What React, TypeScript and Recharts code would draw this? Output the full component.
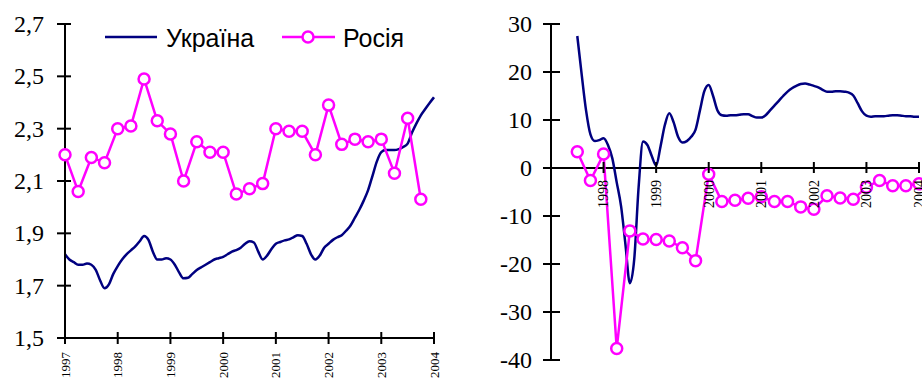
import React from 'react';
import { LineChart, Line, XAxis, YAxis, ReferenceLine, Legend } from 'recharts';

// ---------- data ----------
const seriesNames = ['Україна', 'Росія'];

const leftYearTicks = [1997, 1998, 1999, 2000, 2001, 2002, 2003, 2004];
const rightYearTicks = [1998, 1999, 2000, 2001, 2002, 2003, 2004];
const leftValueTicks = [1.5, 1.7, 1.9, 2.1, 2.3, 2.5, 2.7];
const rightValueTicks = [-40, -30, -20, -10, 0, 10, 20, 30];

// Left panel: Ukraine, monthly from Jan 1997 to Jan 2004
const ukraineLevelMonthly = [
  1.82, 1.8, 1.79, 1.78, 1.78, 1.785, 1.78, 1.76, 1.72, 1.69, 1.705, 1.745,
  1.775, 1.8, 1.82, 1.835, 1.85, 1.87, 1.89, 1.875, 1.83, 1.8, 1.8, 1.805,
  1.8, 1.78, 1.75, 1.728, 1.73, 1.745, 1.76, 1.77, 1.78, 1.79, 1.8, 1.805,
  1.81, 1.82, 1.83, 1.836, 1.845, 1.86, 1.87, 1.865, 1.83, 1.8, 1.815, 1.84,
  1.86, 1.867, 1.873, 1.877, 1.885, 1.893, 1.89, 1.86, 1.82, 1.8, 1.815, 1.845,
  1.86, 1.875, 1.885, 1.893, 1.91, 1.93, 1.96, 1.99, 2.025, 2.065, 2.12, 2.175,
  2.21, 2.218, 2.218, 2.218, 2.222, 2.23, 2.243, 2.285, 2.32, 2.351, 2.375, 2.398,
  2.42,
];
// Left panel: Russia, quarterly from 1997 Q1 to 2003 Q4
const russiaLevelQuarterly = [
  2.2, 2.06, 2.19, 2.17,
  2.3, 2.31, 2.49, 2.33,
  2.28, 2.1, 2.25, 2.21,
  2.21, 2.05, 2.07, 2.09,
  2.3, 2.29, 2.29, 2.2,
  2.39, 2.24, 2.26, 2.25,
  2.26, 2.13, 2.34, 2.03,
];

// Right panel: Ukraine, monthly from Jul 1997 to Jan 2004
const ukraineChangeMonthly = [
  27.5, 19.5, 12.0, 7.0, 5.6, 5.8,
  6.2, 4.8, 2.0, -3.0, -8.0, -16.0, -24.0, -19.0, -4.0, 5.5, 4.8, 2.5,
  0.5, 4.5, 9.0, 11.4, 9.5, 6.5, 5.3, 5.6, 6.5, 8.0, 12.0, 16.0,
  17.3, 15.0, 12.0, 11.0, 10.9, 11.0, 11.0, 11.1, 11.2, 11.2, 10.8, 10.5,
  10.5, 11.0, 12.0, 13.0, 14.0, 15.0, 15.9, 16.6, 17.1, 17.5, 17.6, 17.4,
  17.1, 16.8, 16.3, 15.9, 15.9, 16.0, 16.0, 15.9, 15.7, 15.1, 13.5, 11.8,
  10.9, 10.7, 10.8, 10.8, 10.8, 10.9, 11.0, 11.0, 10.9, 10.8, 10.8, 10.7,
  10.7,
];
// Right panel: Russia, quarterly from 1997 Q3 to 2004 Q1
const russiaChangeQuarterly = [
  3.4, -2.6,
  2.9, -37.6, -13.1, -14.8,
  -14.9, -15.2, -16.6, -19.3,
  -1.3, -7.0, -6.7, -6.3,
  -6.0, -7.0, -7.0, -8.1,
  -8.6, -5.8, -6.25, -6.5,
  -4.0, -2.6, -3.7, -3.7,
  -3.3,
];

const monthly = (vals: number[], start: number) => vals.map((v, i) => ({ x: start + i / 12, y: v }));
const quarterly = (vals: number[], start: number) => vals.map((v, i) => ({ x: start + i / 4, y: v }));

const ukrLeft = monthly(ukraineLevelMonthly, 1997);
const rusLeft = quarterly(russiaLevelQuarterly, 1997);
const ukrRight = monthly(ukraineChangeMonthly, 1997.5);
const rusRight = quarterly(russiaChangeQuarterly, 1997.5);

// ---------- style ----------
const UKR = '#000080';
const RUS = '#FF00FF';
const SERIF = '"Liberation Serif", "Times New Roman", serif';
const SANS = '"Liberation Sans", Arial, sans-serif';

const L_W = 460, L_H = 380, L_TOP = 24, L_RIGHT = 26, L_YW = 65, L_XH = 42;
const R_W = 462, R_H = 380, R_TOP = 24, R_RIGHT = 3, R_YW = 91, R_XH = 20;
const R_MIN = -40, R_MAX = 30;
const R_PLOT_H = R_H - R_TOP - R_XH;
const R_ZERO_Y = R_TOP + (R_PLOT_H * (R_MAX - 0)) / (R_MAX - R_MIN);

const comma = (v: number) => v.toFixed(1).replace('.', ',');

const LeftYTick = (p: any) => {
  const { x, y, payload } = p;
  return (
    <g>
      <line x1={x - 8} x2={x + 6} y1={y} y2={y} stroke="#000" strokeWidth={2} />
      <text x={x - 21} y={y} dy="0.34em" textAnchor="end" fontFamily={SERIF} fontSize={24} fill="#000">
        {comma(payload.value)}
      </text>
    </g>
  );
};

const LeftXTick = (p: any) => {
  const { x, y, payload } = p;
  return (
    <g>
      <line x1={x} x2={x} y1={y - 6} y2={y + 6} stroke="#000" strokeWidth={2} />
      <text
        transform={`translate(${x},${y + 14}) rotate(-90)`}
        textAnchor="end"
        dy="0.35em"
        fontFamily={SERIF}
        fontSize={13}
        fill="#000"
      >
        {payload.value}
      </text>
    </g>
  );
};

const RightYTick = (p: any) => {
  const { x, y, payload } = p;
  return (
    <g>
      <line x1={x - 8} x2={x + 9} y1={y} y2={y} stroke="#000" strokeWidth={2} />
      <text x={x - 19} y={y} dy="0.34em" textAnchor="end" fontFamily={SERIF} fontSize={24} fill="#000">
        {payload.value}
      </text>
    </g>
  );
};

const RightXTick = (p: any) => {
  const { x, payload } = p;
  const y = R_ZERO_Y;
  return (
    <g>
      <line x1={x} x2={x} y1={y - 6} y2={y + 5} stroke="#000" strokeWidth={2} />
      <text
        transform={`translate(${x},${y + 12}) rotate(-90)`}
        textAnchor="end"
        dy="0.35em"
        fontFamily={SERIF}
        fontSize={14}
        fill="#000"
      >
        {payload.value}
      </text>
    </g>
  );
};

const LegendContent = () => (
  <svg width={330} height={34} style={{ display: 'block', overflow: 'visible' }}>
    <line x1={5} x2={57} y1={15} y2={15} stroke={UKR} strokeWidth={2.5} />
    <text x={66} y={25} fontFamily={SANS} fontSize={25} fill="#000">{seriesNames[0]}</text>
    <line x1={182} x2={235} y1={15} y2={15} stroke={RUS} strokeWidth={2.5} />
    <circle cx={208} cy={15} r={5.5} fill="#fff" stroke={RUS} strokeWidth={2.5} />
    <text x={243} y={25} fontFamily={SANS} fontSize={25} fill="#000">{seriesNames[1]}</text>
  </svg>
);

const rusDot = { r: 5.5, fill: '#fff', stroke: RUS, strokeWidth: 2.5 };

export default function App() {
  return (
    <div style={{ position: 'absolute', left: 0, top: 0, width: 922, height: 380, background: '#fff', overflow: 'hidden' }}>
      <div style={{ position: 'absolute', left: 0, top: 0 }}>
        <LineChart width={L_W} height={L_H} margin={{ top: L_TOP, right: L_RIGHT, bottom: 0, left: 0 }}>
          <XAxis
            dataKey="x"
            type="number"
            domain={[1997, 2004]}
            ticks={leftYearTicks}
            interval={0}
            height={L_XH}
            tickSize={0}
            tickMargin={0}
            tick={<LeftXTick />}
            axisLine={{ stroke: '#000', strokeWidth: 2 }}
            allowDuplicatedCategory={false}
          />
          <YAxis
            type="number"
            domain={[1.5, 2.7]}
            ticks={leftValueTicks}
            interval={0}
            width={L_YW}
            tickSize={0}
            tickMargin={0}
            tick={<LeftYTick />}
            axisLine={{ stroke: '#000', strokeWidth: 2 }}
          />
          <Legend
            layout="horizontal"
            verticalAlign="middle"
            align="center"
            content={<LegendContent />}
            wrapperStyle={{ top: 22, left: 100, width: 330 }}
          />
          <Line data={ukrLeft} dataKey="y" name={seriesNames[0]} type="monotone" stroke={UKR} strokeWidth={2.5} dot={false} isAnimationActive={false} />
          <Line data={rusLeft} dataKey="y" name={seriesNames[1]} type="linear" stroke={RUS} strokeWidth={2.5} dot={rusDot} isAnimationActive={false} />
        </LineChart>
      </div>
      <div style={{ position: 'absolute', left: 460, top: 0 }}>
        <LineChart width={R_W} height={R_H} margin={{ top: R_TOP, right: R_RIGHT, bottom: 0, left: 0 }}>
          <XAxis
            dataKey="x"
            type="number"
            domain={[1997, 2004]}
            ticks={rightYearTicks}
            interval={0}
            height={R_XH}
            tickSize={0}
            tickMargin={0}
            tick={<RightXTick />}
            axisLine={false}
            allowDuplicatedCategory={false}
          />
          <YAxis
            type="number"
            domain={[R_MIN, R_MAX]}
            ticks={rightValueTicks}
            interval={0}
            width={R_YW}
            tickSize={0}
            tickMargin={0}
            tick={<RightYTick />}
            axisLine={{ stroke: '#000', strokeWidth: 2 }}
          />
          <ReferenceLine y={0} stroke="#000" strokeWidth={2} />
          <Line data={ukrRight} dataKey="y" name={seriesNames[0]} type="monotone" stroke={UKR} strokeWidth={2.5} dot={false} isAnimationActive={false} />
          <Line data={rusRight} dataKey="y" name={seriesNames[1]} type="linear" stroke={RUS} strokeWidth={2.5} dot={rusDot} isAnimationActive={false} />
        </LineChart>
      </div>
    </div>
  );
}
